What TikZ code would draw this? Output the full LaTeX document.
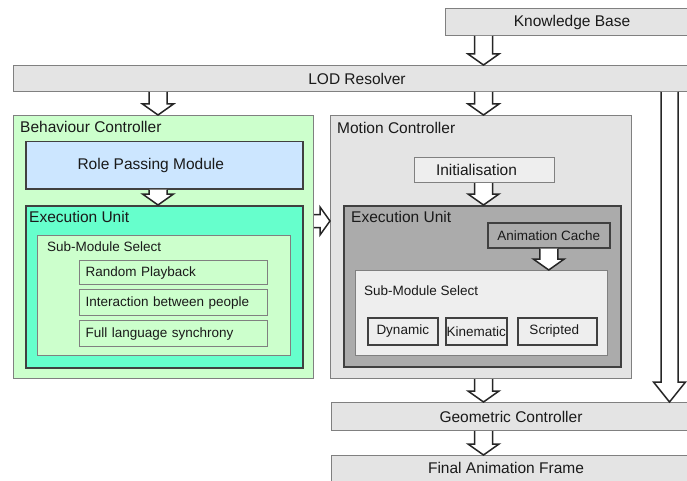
\documentclass[tikz,border=0pt]{standalone}
\usepackage{fontspec}
\setmainfont{Liberation Sans}
\usetikzlibrary{calc, positioning}
\definecolor{bcgreen}{HTML}{CCFFCC}
\definecolor{rpblue}{HTML}{CCE6FF}
\definecolor{eugreen}{HTML}{66FFCC}
\definecolor{lgray}{HTML}{E4E4E4}
\definecolor{mgray}{HTML}{ABABAB}
\definecolor{pgray}{HTML}{EEEEEE}
\definecolor{edge}{HTML}{808080}
\definecolor{dedge}{HTML}{404040}
\definecolor{txt}{HTML}{1A1A1A}
\newcommand{\bigfont}{\fontsize{15.5}{18}\selectfont}
\newcommand{\smallfont}{\fontsize{13.5}{16}\selectfont}
\tikzset{
  box/.style={draw=edge, line width=1pt, inner sep=0pt, anchor=north west, text=txt, font=\bigfont},
  darkbox/.style={box, draw=dedge, line width=1.5pt},
  title/.style={anchor=west, inner sep=0pt, text=txt, font=\bigfont},
  item/.style={box, line width=1.2pt, font=\smallfont, align=left, inner xsep=6pt, text width=176pt, minimum height=#1},
  fat shape/.style n args={3}{to path={
    ($(\tikztostart)!#1!90:(\tikztotarget)$)
    -- ($(\tikztotarget)!#3!(\tikztostart)!#1!90:(\tikztotarget)$)
    -- ($(\tikztotarget)!#3!(\tikztostart)!#2!90:(\tikztotarget)$)
    -- (\tikztotarget)
    -- ($(\tikztotarget)!#3!(\tikztostart)!#2!-90:(\tikztotarget)$)
    -- ($(\tikztotarget)!#3!(\tikztostart)!#1!-90:(\tikztotarget)$)
    -- ($(\tikztostart)!#1!-90:(\tikztotarget)$) \tikztonodes}},
  fat/.style={fat shape={9pt}{15.5pt}{11pt}},
  fatarrow/.style={draw=black!85, fill=white, line width=1.5pt, line join=miter}
}
\begin{document}
\begin{tikzpicture}[x=1pt, y=-1pt]
\useasboundingbox (0,0) rectangle (687,481);
% Khung tren
\node[box, fill=lgray, minimum width=245, minimum height=27] (kb) at (445,8) {\hspace*{8pt}Knowledge Base};
\node[box, fill=lgray, minimum width=677, minimum height=26] (lod) at (13,65) {\hspace*{10pt}LOD Resolver};

% Behaviour Controller
\node[box, fill=bcgreen, minimum width=300, minimum height=263] (bc) at (13,115) {};
\node[title] (bctitle) at (20,127) {Behaviour Controller};
\node[darkbox, fill=rpblue, minimum width=277, minimum height=47] (rp) at (25,141) {};
\node[title, anchor=center] (rptext) at ($(rp.center)+(-13.5,0)$) {Role Passing Module};
\node[darkbox, fill=eugreen, minimum width=277, minimum height=162] (eul) at (25,205) {};
\node[title] (eultitle) at (29,217) {Execution Unit};
\node[box, fill=bcgreen, line width=1.2pt, minimum width=253, minimum height=120] (sml) at (37,235) {};
\node[title, font=\smallfont] (smltitle) at (47,247) {Sub-Module Select};
\node[item=24, fill=bcgreen] (rpb) at (79,260) {Random Playback};
\node[item=26, fill=bcgreen] (ibp) at (79,289) {Interaction between people};
\node[item=26, fill=bcgreen] (fls) at (79,320) {Full language synchrony};

% Motion Controller
\node[box, fill=lgray, minimum width=301, minimum height=263] (mc) at (330,115) {};
\node[title] (mctitle) at (337,128) {Motion Controller};
\node[box, fill=pgray, minimum width=140, minimum height=25] (init) at (414,157) {Initialisation\hspace*{16pt}};
\node[darkbox, fill=mgray, minimum width=277, minimum height=161] (eum) at (343,205) {};
\node[title] (eumtitle) at (351,217) {Execution Unit};
\node[darkbox, fill=mgray, minimum width=122, minimum height=25, font=\smallfont] (ac) at (487,222) {Animation Cache};
\node[box, fill=pgray, line width=1.2pt, minimum width=252, minimum height=85] (smm) at (355,270) {};
\node[title, font=\smallfont] (smmtitle) at (364,291) {Sub-Module Select};
\node[darkbox, fill=pgray, minimum width=70, minimum height=27, font=\smallfont] (dyn) at (367,317) {Dynamic};
\node[darkbox, fill=pgray, minimum width=61, minimum height=27, font=\smallfont] (kin) at (445,317) {Kinematic};
\node[darkbox, fill=pgray, minimum width=79, minimum height=27, font=\smallfont] (scr) at (517,317) {Scripted\hspace*{6pt}};

% Khung duoi
\node[box, fill=lgray, minimum width=359, minimum height=28] (geo) at (331,402) {Geometric Controller};
\node[box, fill=lgray, minimum width=359, minimum height=30] (fin) at (331,455) {};
\node[title, anchor=center] (fintext) at ($(fin.center)+(-5,-3)$) {Final Animation Frame};

% Mui ten
\coordinate (colL) at (158,0);
\coordinate (colM) at (483.5,0);
\coordinate (colR) at (669.5,0);
\coordinate (rowH) at (0,221);
\draw[fatarrow, fat] (kb.south -| colM) to (lod.north -| colM);
\draw[fatarrow, fat] (lod.south -| colL) to (bc.north -| colL);
\draw[fatarrow, fat] (lod.south -| colM) to (mc.north -| colM);
\draw[fatarrow, fat shape={8.5pt}{16pt}{20pt}] (lod.south -| colR) to (geo.north -| colR);
\draw[fatarrow, fat] (rp.south -| colL) to (eul.north -| colL);
\draw[fatarrow, fat] (init.south -| colM) to (eum.north -| colM);
\draw[fatarrow, fat] (ac.south) to (smm.north -| ac.south);
\draw[fatarrow, fat] (mc.south -| colM) to (geo.north -| colM);
\draw[fatarrow, fat] (geo.south -| colM) to (fin.north -| colM);
\draw[fatarrow, fat shape={6.5pt}{14pt}{10pt}] (bc.east |- rowH) to (mc.west |- rowH);

\end{tikzpicture}
\end{document}
